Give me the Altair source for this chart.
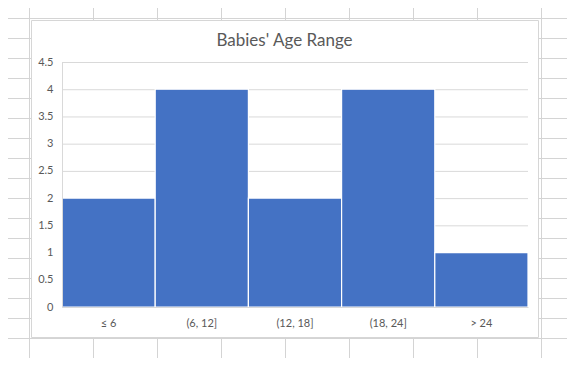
import altair as alt
import pandas as pd

# ---- chart data ----
categories = ["≤ 6", "(6, 12]", "(12, 18]", "(18, 24]", "> 24"]
counts = [2, 4, 2, 4, 1]
y_ticks = [0, 0.5, 1, 1.5, 2, 2.5, 3, 3.5, 4, 4.5]
title_text = "Babies' Age Range"

# ---- spreadsheet backdrop (page pixel positions of cell borders) ----
sheet_cols = [29, 93, 157, 221, 285, 349, 413, 477, 541]
sheet_rows = [18, 38, 58, 78, 98, 118, 138, 158, 178, 198, 218, 238, 258, 278, 298, 318, 338, 358]

W, H = 466, 245
PAD_L, PAD_T, PAD_R, PAD_B = 54, 54, 39, 51
OX, OY = 8 + PAD_L, 8 + PAD_T  # page position of plot origin

FONT = "Lato"
TXT = "#595959"
GRID = "#d9d9d9"

bars_df = pd.DataFrame({"cat": categories, "count": counts})
grid_df = pd.DataFrame({"v": y_ticks})
cols_df = pd.DataFrame({"x": [c - OX + 0.5 for c in sheet_cols]})
rows_df = pd.DataFrame({"y": [r - OY + 0.5 for r in sheet_rows]})
one_df = pd.DataFrame({"k": [0]})

sheet_v = alt.Chart(cols_df).mark_rule(color="#d4d4d4", strokeWidth=1).encode(
    x=alt.X("x:Q", scale=None, axis=None),
    y=alt.value(-PAD_T),
    y2=alt.value(H + PAD_B),
)
sheet_h = alt.Chart(rows_df).mark_rule(color="#d4d4d4", strokeWidth=1).encode(
    y=alt.Y("y:Q", scale=None, axis=None),
    x=alt.value(-PAD_L),
    x2=alt.value(W + PAD_R),
)
box = alt.Chart(one_df).mark_rect(fill="white", stroke="#d6d6d6", strokeWidth=1).encode(
    x=alt.value(31.5 - OX),
    x2=alt.value(538.5 - OX),
    y=alt.value(20.5 - OY),
    y2=alt.value(337.5 - OY),
)
title = alt.Chart(one_df).mark_text(
    text=title_text, font=FONT, fontSize=17, color=TXT,
    align="center", baseline="middle",
).encode(x=alt.value(284.5 - OX), y=alt.value(41 - OY))

grid = alt.Chart(grid_df).mark_rule(color=GRID, strokeWidth=1, yOffset=0.5).encode(
    y=alt.Y("v:Q", scale=alt.Scale(domain=[0, 4.5]), axis=None)
)
bars = alt.Chart(bars_df).mark_bar(color="#4472C4", stroke="white", strokeWidth=1.2).encode(
    x=alt.X(
        "cat:N",
        sort=categories,
        scale=alt.Scale(paddingInner=0, paddingOuter=0),
        axis=alt.Axis(
            title=None, labelAngle=0, ticks=False, labelPadding=10, zindex=1,
            domainColor=GRID, labelColor=TXT, labelFont=FONT, labelFontSize=11,
        ),
    ),
    y=alt.Y(
        "count:Q",
        scale=alt.Scale(domain=[0, 4.5]),
        axis=alt.Axis(
            title=None, values=y_ticks, format="~g", grid=False, ticks=False,
            labelPadding=9, domainColor=GRID, labelColor=TXT, labelFont=FONT,
            labelFontSize=11, zindex=1,
        ),
    ),
)

chart = (
    alt.layer(sheet_v, sheet_h, box, title, grid, bars)
    .resolve_scale(x="independent", y="independent")
    .properties(
        width=W,
        height=H,
        padding={"left": PAD_L, "top": PAD_T, "right": PAD_R, "bottom": PAD_B},
        autosize=alt.AutoSizeParams(type="none"),
    )
    .configure_view(stroke=None)
    .configure(background="white")
)

chart.save("out.html", embed_options={"renderer": "svg", "actions": False})
